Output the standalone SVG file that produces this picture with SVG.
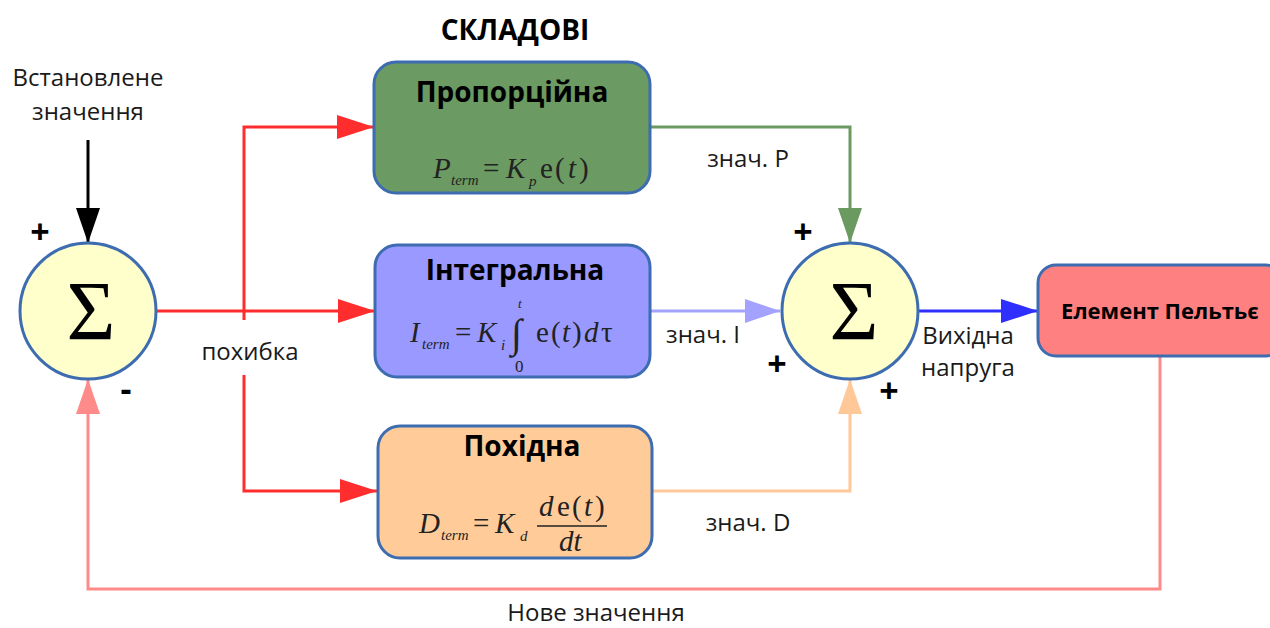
<svg xmlns="http://www.w3.org/2000/svg" width="1270" height="628" viewBox="0 0 1270 628">
<style>
.lbl{font-family:"Open Sans","Noto Sans","DejaVu Sans",sans-serif;font-size:24px;fill:#1a1a1a}
.ttl{font-family:"Open Sans","Noto Sans","DejaVu Sans",sans-serif;font-size:28px;font-weight:bold;fill:#000}
.sign{font-family:"Open Sans","Noto Sans","DejaVu Sans",sans-serif;font-size:34px;font-weight:bold;fill:#000}
.box{stroke:#3d6db0;stroke-width:3}
.sum{fill:#ffffcc;stroke:#3d6db0;stroke-width:3}
.sig{font-family:"Liberation Serif","DejaVu Serif",serif;font-size:84px;fill:#000}
.m{font-family:"Liberation Serif","DejaVu Serif",serif;font-size:29px;font-style:italic;fill:#222}
.mu{font-family:"Liberation Serif","DejaVu Serif",serif;font-size:29px;fill:#222}
.ms{font-family:"Liberation Serif","DejaVu Serif",serif;font-size:15px;font-style:italic;fill:#222}
.ln{fill:none;stroke-width:3}
</style>
<defs>
<marker id="aBlack" markerUnits="userSpaceOnUse" markerWidth="36" markerHeight="26" refX="35" refY="13" orient="auto"><path d="M0,1 L35,13 L0,25 Z" fill="#000"/></marker>
<marker id="aRed" markerUnits="userSpaceOnUse" markerWidth="38" markerHeight="26" refX="37" refY="13" orient="auto"><path d="M0,1 L37,13 L0,25 Z" fill="#ff2d2d"/></marker>
<marker id="aGreen" markerUnits="userSpaceOnUse" markerWidth="36" markerHeight="26" refX="35" refY="13" orient="auto"><path d="M0,1 L35,13 L0,25 Z" fill="#6a9a60"/></marker>
<marker id="aLblue" markerUnits="userSpaceOnUse" markerWidth="36" markerHeight="26" refX="35" refY="13" orient="auto"><path d="M0,1 L35,13 L0,25 Z" fill="#a3a3ff"/></marker>
<marker id="aOrange" markerUnits="userSpaceOnUse" markerWidth="36" markerHeight="26" refX="35" refY="13" orient="auto"><path d="M0,1 L35,13 L0,25 Z" fill="#ffc899"/></marker>
<marker id="aBlue" markerUnits="userSpaceOnUse" markerWidth="38" markerHeight="26" refX="37" refY="13" orient="auto"><path d="M0,1 L37,13 L0,25 Z" fill="#2f2fff"/></marker>
<marker id="aPink" markerUnits="userSpaceOnUse" markerWidth="36" markerHeight="26" refX="35" refY="13" orient="auto"><path d="M0,1 L35,13 L0,25 Z" fill="#ff8a8a"/></marker>
</defs>
<rect width="1270" height="628" fill="#fff"/>

<g id="connectors">
<path class="ln" stroke="#000" d="M88,140 L88,243" marker-end="url(#aBlack)"/>
<path class="ln" stroke="#ff2d2d" d="M157,311 L375,311" marker-end="url(#aRed)"/>
<path class="ln" stroke="#ff2d2d" d="M244,320 L244,127 L374,127" marker-end="url(#aRed)"/>
<path class="ln" stroke="#ff2d2d" d="M244,375 L244,491 L377,491" marker-end="url(#aRed)"/>
<path class="ln" stroke="#6a9a60" d="M650,127 L850,127 L850,243" marker-end="url(#aGreen)"/>
<path class="ln" stroke="#a3a3ff" d="M650,311 L780,311" marker-end="url(#aLblue)"/>
<path class="ln" stroke="#ffc899" d="M652,491 L850,491 L850,379" marker-end="url(#aOrange)"/>
<path class="ln" stroke="#2f2fff" d="M919,311 L1038,311" marker-end="url(#aBlue)"/>
<path class="ln" stroke="#ff8a8a" d="M1160,356 L1160,589 L88,589 L88,379" marker-end="url(#aPink)"/>
</g>

<g id="labels">
<text class="ttl" x="515" y="40" text-anchor="middle">СКЛАДОВІ</text>
<text class="lbl" x="88" y="86" text-anchor="middle">Встановлене</text>
<text class="lbl" x="88" y="120" text-anchor="middle">значення</text>
<text class="lbl" x="250" y="360" text-anchor="middle">похибка</text>
<text class="lbl" x="748" y="167" text-anchor="middle">знач. P</text>
<text class="lbl" x="703" y="343" text-anchor="middle">знач. I</text>
<text class="lbl" x="748" y="531" text-anchor="middle">знач. D</text>
<text class="lbl" x="968" y="344" text-anchor="middle">Вихідна</text>
<text class="lbl" x="968" y="376" text-anchor="middle">напруга</text>
<text class="lbl" x="596" y="621" text-anchor="middle">Нове значення</text>
<text class="sign" x="40" y="244" text-anchor="middle">+</text>
<text class="sign" x="126" y="401" text-anchor="middle">-</text>
<text class="sign" x="803" y="244" text-anchor="middle">+</text>
<text class="sign" x="777" y="376" text-anchor="middle">+</text>
<text class="sign" x="889" y="403" text-anchor="middle">+</text>
</g>

<g id="sum1">
<circle class="sum" cx="88" cy="311" r="68"/>
<text class="sig" x="91" y="340" text-anchor="middle">Σ</text>
</g>

<g id="sum2">
<circle class="sum" cx="850" cy="311" r="68"/>
<text class="sig" x="854" y="340" text-anchor="middle">Σ</text>
</g>

<g id="proportional">
<rect class="box" x="374" y="62" width="276" height="131" rx="22" fill="#6b9a62"/>
<text class="ttl" x="512" y="102" text-anchor="middle">Пропорційна</text>
<text class="m" x="433" y="178">P</text>
<text class="ms" x="451" y="185">term</text>
<text class="mu" x="483" y="178">=</text>
<text class="m" x="506" y="178">K</text>
<text class="ms" x="529" y="186">p</text>
<text class="mu" x="540" y="178">e</text>
<text class="mu" x="555" y="178">(</text>
<text class="m" x="568" y="178">t</text>
<text class="mu" x="579" y="178">)</text>
</g>

<g id="integral">
<rect class="box" x="375" y="245" width="275" height="132" rx="22" fill="#9999ff"/>
<text class="ttl" x="515" y="280" text-anchor="middle">Інтегральна</text>
<text class="m" x="410" y="342">I</text>
<text class="ms" x="422" y="349">term</text>
<text class="mu" x="455" y="342">=</text>
<text class="m" x="477" y="342">K</text>
<text class="ms" x="501" y="350">i</text>
<text class="mu" x="511" y="347" style="font-size:40px">∫</text>
<text class="ms" x="518" y="308" style="font-size:13px">t</text>
<text class="mu" x="515" y="372" style="font-size:17px">0</text>
<text class="mu" x="536" y="342">e</text>
<text class="mu" x="551" y="342">(</text>
<text class="m" x="562" y="342">t</text>
<text class="mu" x="572" y="342">)</text>
<text class="m" x="584" y="342">d</text>
<text class="mu" x="601" y="342">τ</text>
</g>

<g id="derivative">
<rect class="box" x="378" y="426" width="274" height="132" rx="22" fill="#ffcc99"/>
<text class="ttl" x="522" y="456" text-anchor="middle">Похідна</text>
<text class="m" x="419" y="533">D</text>
<text class="ms" x="441" y="540">term</text>
<text class="mu" x="473" y="533">=</text>
<text class="m" x="495" y="533">K</text>
<text class="ms" x="520" y="541">d</text>
<text class="m" x="539" y="516">d</text>
<text class="mu" x="557" y="516">e</text>
<text class="mu" x="572" y="516">(</text>
<text class="m" x="584" y="516">t</text>
<text class="mu" x="595" y="516">)</text>
<line x1="537" y1="526" x2="607" y2="526" stroke="#222" stroke-width="1.5"/>
<text class="m" x="559" y="551">dt</text>
</g>

<g id="peltier">
<rect class="box" x="1038" y="265" width="246" height="91" rx="18" fill="#ff8080"/>
<text x="1160" y="319" text-anchor="middle" font-family="Open Sans, Noto Sans, DejaVu Sans, sans-serif" font-size="22" font-weight="bold" fill="#000">Елемент Пельтьє</text>
</g>
</svg>
